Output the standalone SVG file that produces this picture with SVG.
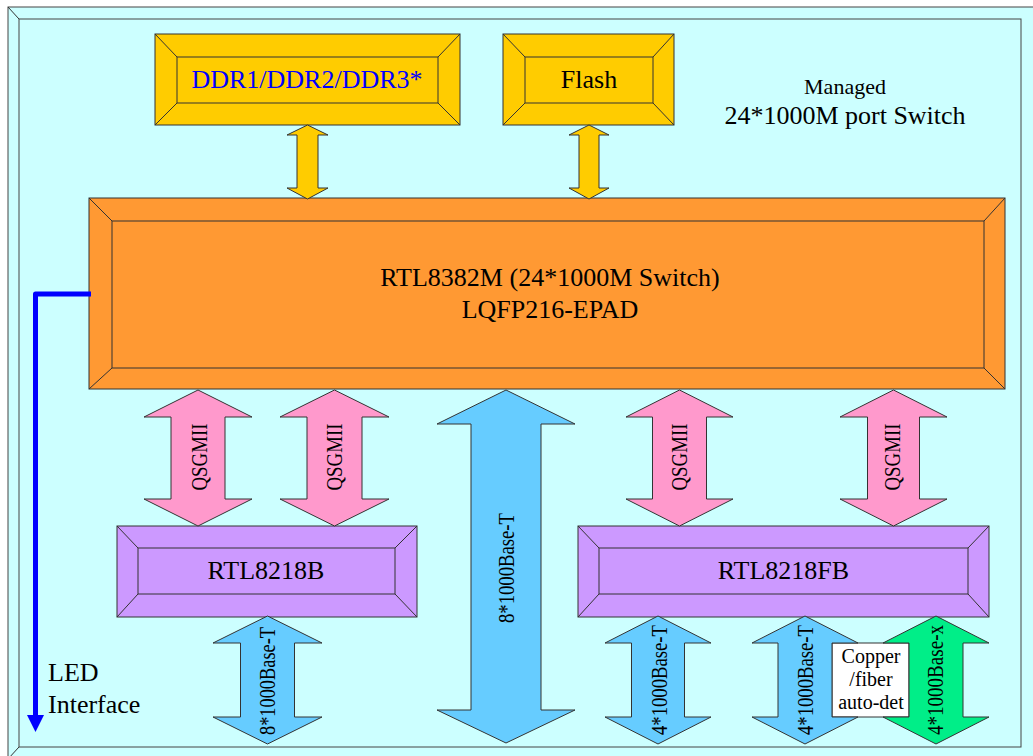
<svg xmlns="http://www.w3.org/2000/svg" width="1033" height="756" viewBox="0 0 1033 756">
<style>
.ln{stroke:#333;stroke-width:1;fill:none}
.t{font-family:"Liberation Serif","Times New Roman",serif;fill:#000}
.yl{fill:#FFCC00;stroke:#333;stroke-width:1}
.or{fill:#FF9933;stroke:#333;stroke-width:1}
.pu{fill:#CC99FF;stroke:#333;stroke-width:1}
.pk{fill:#FF99CC;stroke:#333;stroke-width:1}
.bl{fill:#66CCFF;stroke:#333;stroke-width:1}
.gr{fill:#00EE88;stroke:#333;stroke-width:1}
</style>
<rect width="1033" height="756" fill="#fff"/>
<g id="frame">
<rect x="8" y="7" width="1040" height="752" fill="#CCFFFF" stroke="#444"/>
<rect x="19" y="19" width="1002" height="728" fill="#CCFFFF" stroke="#444"/>
<line class="ln" x1="8" y1="7" x2="19" y2="19"/>
<line class="ln" x1="8" y1="759" x2="19" y2="747"/>
</g>
<g id="title">
<text class="t" x="845" y="94" font-size="22" text-anchor="middle">Managed</text>
<text class="t" x="845" y="124" font-size="26" text-anchor="middle">24*1000M port Switch</text>
</g>
<g id="ddr">
<rect class="yl" x="155" y="34" width="305" height="91"/>
<rect class="yl" x="177" y="57" width="261" height="46"/>
<path class="ln" d="M155,34L177,57M460,34L438,57M155,125L177,103M460,125L438,103"/>
<text class="t" x="307" y="88" font-size="26" text-anchor="middle" style="fill:#0000FF">DDR1/DDR2/DDR3*</text>
</g>
<g id="flash">
<rect class="yl" x="503" y="34" width="171" height="91"/>
<rect class="yl" x="525" y="57" width="128" height="46"/>
<path class="ln" d="M503,34L525,57M674,34L653,57M503,125L525,103M674,125L653,103"/>
<text class="t" x="589" y="88" font-size="26" text-anchor="middle">Flash</text>
</g>
<g id="rtl8382m">
<rect class="or" x="89" y="198" width="916" height="191"/>
<rect class="or" x="112" y="221" width="872" height="147"/>
<path class="ln" d="M89,198L112,221M1005,198L984,221M89,389L112,368M1005,389L984,368"/>
<text class="t" x="550" y="286" font-size="26" text-anchor="middle">RTL8382M (24*1000M Switch)</text>
<text class="t" x="550" y="318" font-size="26" text-anchor="middle">LQFP216-EPAD</text>
</g>
<g id="rtl8218b">
<rect class="pu" x="117" y="526" width="300" height="91"/>
<rect class="pu" x="138" y="548" width="257" height="46"/>
<path class="ln" d="M117,526L138,548M417,526L395,548M117,617L138,594M417,617L395,594"/>
<text class="t" x="266" y="579" font-size="26" text-anchor="middle">RTL8218B</text>
</g>
<g id="rtl8218fb">
<rect class="pu" x="578" y="526" width="411" height="91"/>
<rect class="pu" x="599" y="548" width="369" height="46"/>
<path class="ln" d="M578,526L599,548M989,526L968,548M578,617L599,594M989,617L968,594"/>
<text class="t" x="783.5" y="579" font-size="26" text-anchor="middle">RTL8218FB</text>
</g>
<g id="led">
<text class="t" x="48" y="681" font-size="26">LED</text>
<text class="t" x="48" y="713" font-size="26">Interface</text>
</g>
<g id="copper">
<rect x="832" y="643" width="77" height="74" fill="#fff" stroke="#333"/>
<text class="t" x="871" y="663" font-size="20" text-anchor="middle">Copper</text>
<text class="t" x="871" y="686" font-size="20" text-anchor="middle">/fiber</text>
<text class="t" x="871" y="709" font-size="20" text-anchor="middle">auto-det</text>
</g>
<g id="connectors">
<polygon class="yl" points="307.5,125 328,135 318,135 318,188 328,188 307.5,199 287,188 297,188 297,135 287,135"/>
<polygon class="yl" points="589,125 609,135 599,135 599,188 609,188 589,199 569,188 579,188 579,135 569,135"/>
<polygon class="pk" points="198,390 252,417 225,417 225,499 252,499 198,526 144,499 171,499 171,417 144,417"/>
<polygon class="pk" points="334.5,390 389,417 362,417 362,499 389,499 334.5,526 280,499 307,499 307,417 280,417"/>
<polygon class="pk" points="679.5,390 733,417 706.5,417 706.5,499 733,499 679.5,526 626,499 652.5,499 652.5,417 626,417"/>
<polygon class="pk" points="893.5,390 947,417 919.5,417 919.5,499 947,499 893.5,526 840,499 867.5,499 867.5,417 840,417"/>
<polygon class="bl" points="506,390 575,424 541,424 541,710 575,710 506,743 437,710 471,710 471,424 437,424"/>
<polygon class="bl" points="267.5,616 322,643 294.5,643 294.5,717 322,717 267.5,744 213,717 240.5,717 240.5,643 213,643"/>
<polygon class="bl" points="658,616 711,643 684.5,643 684.5,717 711,717 658,744 605,717 631.5,717 631.5,643 605,643"/>
<polygon class="bl" points="805,616 858,643 832,643 832,717 858,717 805,744 752,717 778,717 778,643 752,643"/>
<polygon class="gr" points="936,616 989,643 963,643 963,717 989,717 936,744 883,717 909,717 909,643 883,643"/>
<path d="M91,294H35.5V716" fill="none" stroke="#0000FF" stroke-width="5" stroke-linejoin="round"/>
<polygon points="27,715 44,715 35.5,732" fill="#0000FF"/>
<g class="t" font-size="23" text-anchor="middle">
<text transform="translate(207,457) rotate(-90)" textLength="67" lengthAdjust="spacingAndGlyphs">QSGMII</text>
<text transform="translate(342,457) rotate(-90)" textLength="67" lengthAdjust="spacingAndGlyphs">QSGMII</text>
<text transform="translate(687,457) rotate(-90)" textLength="67" lengthAdjust="spacingAndGlyphs">QSGMII</text>
<text transform="translate(900,457) rotate(-90)" textLength="67" lengthAdjust="spacingAndGlyphs">QSGMII</text>
<text transform="translate(514,568) rotate(-90)" textLength="110" lengthAdjust="spacingAndGlyphs">8*1000Base-T</text>
<text transform="translate(275,681) rotate(-90)" textLength="108" lengthAdjust="spacingAndGlyphs">8*1000Base-T</text>
<text transform="translate(667,680) rotate(-90)" textLength="110" lengthAdjust="spacingAndGlyphs">4*1000Base-T</text>
<text transform="translate(813,680) rotate(-90)" textLength="110" lengthAdjust="spacingAndGlyphs">4*1000Base-T</text>
<text transform="translate(943,680) rotate(-90)" textLength="110" lengthAdjust="spacingAndGlyphs">4*1000Base-x</text>
</g>
</g>
</svg>
